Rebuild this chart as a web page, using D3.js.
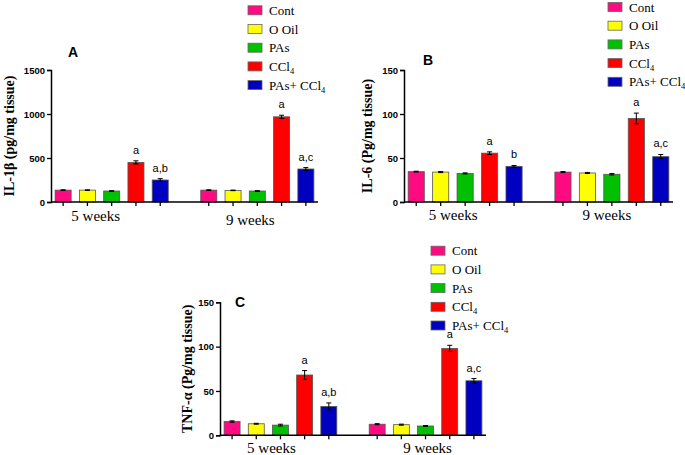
<!DOCTYPE html>
<html>
  <head>
    <meta charset="utf-8" />
    <style>
      body {
        margin: 0;
        background: #fff;
      }
      svg {
        display: block;
      }
      .tick-label {
        font-family: "Liberation Sans", Arial, sans-serif;
        font-size: 9.5px;
        font-weight: bold;
      }
      .y-title {
        font-family: "Liberation Serif", "Times New Roman", serif;
        font-size: 14px;
        font-weight: bold;
        text-anchor: middle;
      }
      .week-label {
        font-family: "Liberation Serif", "Times New Roman", serif;
        font-size: 15px;
        text-anchor: middle;
      }
      .legend-label {
        font-family: "Liberation Serif", "Times New Roman", serif;
        font-size: 13px;
      }
      .sig-label {
        font-family: "Liberation Sans", Arial, sans-serif;
        font-size: 11px;
        text-anchor: middle;
      }
      .panel-letter {
        font-family: "Liberation Sans", Arial, sans-serif;
        font-size: 14px;
        font-weight: bold;
      }
    </style>
  </head>
  <body>
    <script src="https://d3js.org/d3.v7.min.js"></script>
    <script>
      // groups and weeks
      const weeks = ["5 weeks", "9 weeks"];
      const groups = ["Cont", "O Oil", "PAs", "CCl4", "PAs+ CCl4"];
      const colors = ["#ff0a80", "#ffff00", "#00c000", "#ff0000", "#0000c0"];

      // IL-1b (pg/mg tissue)
      const il1b5 = [135, 135, 125, 450, 250];
      const il1b9 = [135, 132, 125, 968, 375];
      const il1bErr5 = [4, 3, 4, 18, 15];
      const il1bErr9 = [4, 3, 4, 18, 16];
      const il1bSig5 = ["", "", "", "a", "a,b"];
      const il1bSig9 = ["", "", "", "a", "a,c"];
      const il1bTicks = [0, 500, 1000, 1500];

      // IL-6 (Pg/mg tissue)
      const il6_5 = [34.5, 34, 32.5, 55.5, 40.5];
      const il6_9 = [34, 33, 31.5, 95, 51.5];
      const il6Err5 = [0.5, 0.6, 0.6, 1.5, 1];
      const il6Err9 = [0.6, 0.6, 0.8, 6, 2.5];
      const il6Sig5 = ["", "", "", "a", "b"];
      const il6Sig9 = ["", "", "", "a", "a,c"];
      const il6Ticks = [0, 50, 100, 150];

      // TNF-a (Pg/mg tissue)
      const tnf5 = [15.5, 13, 11.5, 68, 32.5];
      const tnf9 = [12.5, 12, 10.5, 98, 61.5];
      const tnfErr5 = [0.8, 0.5, 1, 5, 4];
      const tnfErr9 = [0.6, 0.6, 0.5, 3.5, 2.5];
      const tnfSig5 = ["", "", "", "a", "a,b"];
      const tnfSig9 = ["", "", "", "a", "a,c"];
      const tnfTicks = [0, 50, 100, 150];

      const panels = [
        {
          letter: "A", title: "IL-1\u03b2 (pg/mg tissue)",
          vals: [il1b5, il1b9], errs: [il1bErr5, il1bErr9], sigs: [il1bSig5, il1bSig9], ticks: il1bTicks,
          left: 51, top: 70, bottom: 202, w: 267,
          letterPos: [68, 57], titleX: 9, weekDx: [-16, -7], weekY: [221, 225],
          legend: [248, 10.3],
        },
        {
          letter: "B", title: "IL-6 (Pg/mg tissue)",
          vals: [il6_5, il6_9], errs: [il6Err5, il6Err9], sigs: [il6Sig5, il6Sig9], ticks: il6Ticks,
          left: 404, top: 70, bottom: 202, w: 269,
          letterPos: [423, 65], titleX: 367, weekDx: [-12, -5], weekY: [220, 220],
          legend: [608, 7],
        },
        {
          letter: "C", title: "TNF-\u03b1 (Pg/mg tissue)",
          vals: [tnf5, tnf9], errs: [tnfErr5, tnfErr9], sigs: [tnfSig5, tnfSig9], ticks: tnfTicks,
          left: 220, top: 302.3, bottom: 435.3, w: 266,
          letterPos: [235, 307], titleX: 187, weekDx: [-9, 2], weekY: [453, 453],
          legend: [431, 250.7],
        },
      ];

      const svg = d3.select("body").append("svg").attr("width", 685).attr("height", 455);

      // 5 bars, an empty slot, 5 bars
      const slots = [0, 1, 2, 3, 4, "gap", 5, 6, 7, 8, 9];

      panels.forEach((p) => {
        const g = svg.append("g");
        const x = d3.scaleBand().domain(slots).range([p.left, p.left + p.w])
          .paddingInner(0.34).paddingOuter(0.17);
        const yMax = p.ticks[p.ticks.length - 1];
        const y = d3.scaleLinear().domain([0, yMax]).range([p.bottom, p.top]);

        const rows = [];
        p.vals.forEach((arr, wi) => {
          arr.forEach((v, gi) => {
            rows.push({ slot: wi * 5 + gi, v, e: p.errs[wi][gi], sig: p.sigs[wi][gi], c: colors[gi] });
          });
        });

        g.selectAll("rect.bar").data(rows).join("rect")
          .attr("class", "bar")
          .attr("x", (d) => x(d.slot))
          .attr("y", (d) => y(d.v))
          .attr("width", x.bandwidth())
          .attr("height", (d) => p.bottom - y(d.v))
          .attr("fill", (d) => d.c)
          .attr("stroke", "#555")
          .attr("stroke-width", 0.8);

        // error bars
        const eb = g.append("g").attr("stroke", "#000").attr("stroke-width", 1);
        rows.forEach((d) => {
          const cx = x(d.slot) + x.bandwidth() / 2;
          eb.append("line").attr("x1", cx).attr("x2", cx).attr("y1", y(d.v - d.e)).attr("y2", y(d.v + d.e));
          [d.v - d.e, d.v + d.e].forEach((t) => {
            eb.append("line").attr("x1", cx - 2.5).attr("x2", cx + 2.5).attr("y1", y(t)).attr("y2", y(t));
          });
        });

        g.selectAll("text.sig-label").data(rows.filter((d) => d.sig)).join("text")
          .attr("class", "sig-label")
          .attr("x", (d) => x(d.slot) + x.bandwidth() / 2)
          .attr("y", (d) => y(d.v + d.e) - 7)
          .text((d) => d.sig);

        // y axis
        const ya = g.append("g").attr("transform", `translate(${p.left},0)`)
          .call(d3.axisLeft(y).tickValues(p.ticks).tickFormat(d3.format("d")).tickSize(4).tickPadding(2));
        ya.select(".domain").attr("stroke-width", 1.5);
        ya.selectAll(".tick line").attr("stroke-width", 1.3);
        ya.selectAll(".tick text").attr("class", "tick-label").attr("font-size", null).attr("font-family", null);

        // x axis with ticks at every bar
        const xa = g.append("g").attr("transform", `translate(0,${p.bottom})`);
        xa.append("line").attr("x1", p.left).attr("x2", p.left + p.w)
          .attr("stroke", "#000").attr("stroke-width", 1.5);
        xa.selectAll("line.tk").data(rows).join("line")
          .attr("class", "tk")
          .attr("x1", (d) => x(d.slot) + x.bandwidth() / 2)
          .attr("x2", (d) => x(d.slot) + x.bandwidth() / 2)
          .attr("y1", 0).attr("y2", 4)
          .attr("stroke", "#000").attr("stroke-width", 1.3);

        weeks.forEach((wk, wi) => {
          const mid = x(wi * 5 + 2) + x.bandwidth() / 2;
          g.append("text").attr("class", "week-label")
            .attr("x", mid + p.weekDx[wi]).attr("y", p.weekY[wi]).text(wk);
        });

        g.append("text").attr("class", "y-title")
          .attr("transform", `translate(${p.titleX},${(p.top + p.bottom) / 2}) rotate(-90)`)
          .attr("dy", "0.35em")
          .text(p.title);

        g.append("text").attr("class", "panel-letter")
          .attr("x", p.letterPos[0]).attr("y", p.letterPos[1]).text(p.letter);

        // legend
        const lg = g.append("g").attr("transform", `translate(${p.legend[0]},${p.legend[1]})`);
        groups.forEach((name, i) => {
          const row = lg.append("g").attr("transform", `translate(0,${i * 18.7})`);
          row.append("rect").attr("x", 0).attr("y", -4.5).attr("width", 14).attr("height", 9)
            .attr("fill", colors[i]).attr("stroke", "#666").attr("stroke-width", 0.8);
          const t = row.append("text").attr("class", "legend-label").attr("x", 21).attr("y", 4.5);
          if (name.endsWith("CCl4")) {
            t.append("tspan").text(name.slice(0, -1));
            t.append("tspan").attr("dy", 3).attr("font-size", 8.5).text("4");
          } else {
            t.text(name);
          }
        });
      });
    </script>
  </body>
</html>
